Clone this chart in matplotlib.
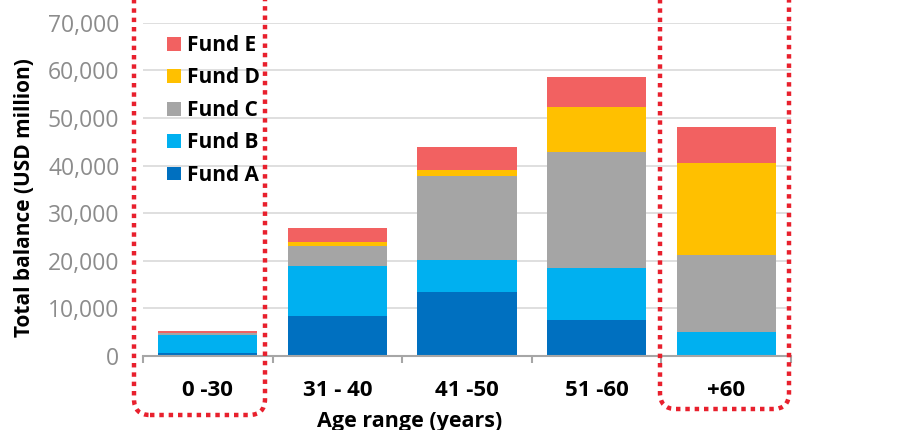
import numpy as np
import matplotlib
matplotlib.use('Agg')
import matplotlib.pyplot as plt
from matplotlib.patches import FancyBboxPatch
from matplotlib.ticker import FuncFormatter, FixedLocator

plt.rcParams['font.family'] = ['Open Sans', 'DejaVu Sans']

# Data (USD million)
age_groups = ['0 -30', '31 - 40', '41 -50', '51 -60', '+60']
fund_a = [560, 8470, 13450, 7560, 0]
fund_b = [3900, 10430, 6780, 10930, 5040]
fund_c = [400, 4200, 17650, 24370, 16180]
fund_d = [50, 780, 1200, 9510, 19390]
fund_e = [340, 2950, 4760, 6170, 7500]
fund_names = ['Fund A', 'Fund B', 'Fund C', 'Fund D', 'Fund E']
fund_colors = ['#0070C0', '#00B0F0', '#A5A5A5', '#FFC000', '#F26161']

fig = plt.figure(figsize=(9.1, 4.3), dpi=100)
ax = fig.add_axes([143/910, 74/430, 648/910, 333.3/430])

x = np.arange(len(age_groups))
bottom = np.zeros(len(age_groups))
bars = []
for vals, name, col in zip([fund_a, fund_b, fund_c, fund_d, fund_e], fund_names, fund_colors):
    b = ax.bar(x, vals, 0.765, bottom=bottom, color=col, label=name, zorder=3)
    bars.append(b)
    bottom += np.array(vals)

ax.set_xlim(-0.5, 4.5)
ax.set_ylim(0, 70000)
ax.set_yticks(np.arange(0, 70001, 10000))
ax.yaxis.set_major_formatter(FuncFormatter(lambda v, p: f'{int(v):,}'))
ax.grid(axis='y', color='#D9D9D9', linewidth=1.2, zorder=0)
for s in ['top', 'right', 'left']:
    ax.spines[s].set_visible(False)
ax.spines['bottom'].set_color('#A6A6A6')
ax.spines['bottom'].set_linewidth(1.5)
ax.spines['bottom'].set_zorder(4)

ax.set_xticks(x)
ax.set_xticklabels(age_groups, fontsize=16, fontweight='bold')
ax.tick_params(axis='x', which='major', length=0, pad=17)
ax.xaxis.set_minor_locator(FixedLocator(np.arange(-0.5, 4.6, 1)))
ax.tick_params(axis='x', which='minor', length=5, width=1.5, color='#A6A6A6')
ax.tick_params(axis='y', length=0, pad=17, labelsize=16.5, labelcolor='#8C8C8C')

fig.text(25/910, 1 - 198/430, 'Total balance (USD million)', fontsize=15, fontweight='bold',
         rotation=90, ha='center', va='center')
fig.text(410/910, 1 - 421/430, 'Age range (years)', fontsize=15.5, fontweight='bold',
         ha='center', va='center')

handles = bars[::-1]
labels = fund_names[::-1]
ax.legend(handles, labels, loc='upper left', bbox_to_anchor=(167/910, 1 - 35/430),
          bbox_transform=fig.transFigure, frameon=False, prop={'size': 15, 'weight': 'bold'},
          handlelength=0.65, handleheight=0.65, handletextpad=0.3, labelspacing=0.55,
          borderaxespad=0, borderpad=0)

# dotted highlight boxes (in inches from bottom-left)
for x0, y0, w in [(1.34, 0.15, 1.31), (6.60, 0.21, 1.29)]:
    box = FancyBboxPatch((x0, y0), w, 5.0, boxstyle='round,pad=0,rounding_size=0.16',
                         transform=fig.dpi_scale_trans, fill=False, edgecolor='#E8202D',
                         linewidth=3.2, linestyle=(0, (1, 1.1)), clip_on=False, zorder=10)
    fig.patches.append(box)

fig.savefig('out.png', dpi=100)
